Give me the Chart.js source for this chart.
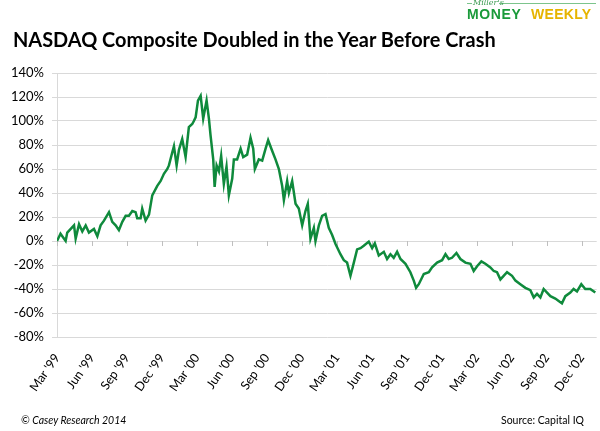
<!DOCTYPE html>
<html>
<head>
<meta charset="utf-8">
<script src="https://cdn.jsdelivr.net/npm/chart.js@4"></script>
<style>
  html, body { margin: 0; padding: 0; background: #fff; }
  #wrap { position: relative; width: 600px; height: 431px; overflow: hidden; font-family: Lato, "Open Sans", sans-serif; }
  #chart { position: absolute; left: 0; top: 0; }
  #title { position: absolute; left: 13px; top: 27px; font-weight: bold; font-size: 22px; color: #000; white-space: nowrap; font-family: Lato, sans-serif; }
  .logo { position: absolute; white-space: nowrap; font-family: "Liberation Sans", Arial, sans-serif; font-weight: bold; }
  #money { left: 467px; top: 6px; font-size: 14px; color: #1a9a3a; letter-spacing: 0.6px; }
  #weekly { left: 531px; top: 6px; font-size: 14px; color: #e6b400; letter-spacing: 0.3px; }
  #miller { left: 473px; top: -2px; font-size: 8px; color: #3a9a50; font-style: italic; font-weight: normal; font-family: "DejaVu Serif", serif; }
  .rule { position: absolute; height: 1px; background: #7cc48c; top: 3px; }
  .foot { position: absolute; top: 414px; font-size: 10.5px; color: #000; white-space: nowrap; font-family: Lato, sans-serif; }
  #copy { left: 21px; font-style: italic; }
  #source { right: 16px; }
</style>
</head>
<body>
<div id="wrap">
  <canvas id="chart" width="600" height="431"></canvas>
  <div class="rule" style="left:467px;width:5px"></div>
  <div class="rule" style="left:499px;width:97px"></div>
  <div class="logo" id="miller">Miller's</div>
  <div class="logo" id="money">MONEY</div>
  <div class="logo" id="weekly">WEEKLY</div>
  <div id="title">NASDAQ Composite Doubled in the Year Before Crash</div>
  <div class="foot" id="copy">© Casey Research 2014</div>
  <div class="foot" id="source">Source: Capital IQ</div>
</div>
<script>
// months since Mar 1999 (x) and % change (y)
const months = [
  0, 0.3, 0.74, 0.88, 1.46, 1.6, 1.89, 2.17, 2.46, 2.74, 3.17, 3.46, 3.74, 4.03, 4.46, 4.74,
  5.03, 5.31, 5.6, 5.89, 6.17, 6.46, 6.74, 6.88, 7.17, 7.31, 7.6, 7.89, 8.17, 8.6, 8.89, 9.17,
  9.46, 9.6, 9.89, 10.03, 10.26, 10.46, 10.74, 11.03, 11.31, 11.6, 11.74, 11.89, 12.09, 12.32,
  12.54, 12.83, 13.03, 13.17, 13.4, 13.52, 13.69, 13.89, 14.08, 14.31, 14.54, 14.74, 15.03,
  15.17, 15.45, 15.75, 15.97, 16.31, 16.6, 16.83, 16.97, 17.31, 17.6, 17.89, 18.11, 18.46,
  18.74, 19.03, 19.31, 19.46, 19.74, 19.89, 20.17, 20.46, 20.74, 21.03, 21.31, 21.51, 21.74,
  22.03, 22.17, 22.46, 22.74, 23.03, 23.31, 23.6, 23.89, 24.31, 24.6, 24.88, 25.17, 25.46,
  25.74, 26.03, 26.31, 26.74, 27.03, 27.26, 27.6, 28.03, 28.31, 28.6, 28.88, 29.17, 29.46,
  29.89, 30.31, 30.6, 30.8, 31.03, 31.46, 31.89, 32.17, 32.6, 33.03, 33.32, 33.6, 33.88,
  34.26, 34.6, 35.03, 35.46, 35.74, 36.03, 36.4, 36.74, 37.17, 37.46, 37.74, 38.03, 38.31,
  38.6, 39.03, 39.32, 39.74, 40.17, 40.6, 40.89, 41.17, 41.46, 41.74, 42.03, 42.32, 42.74,
  43.03, 43.31, 43.6, 44.03, 44.31, 44.6, 44.97, 45.31, 45.74, 46.17
];
const pctChange = [
  0, 6, 0, 7, 13, 2, 14, 8, 13, 7, 10, 4, 13, 17, 24, 16,
  13, 9, 16, 21, 21, 25, 24, 19, 19, 27, 17, 22, 38, 46, 50, 56,
  60, 63, 74, 79, 63, 76, 85, 70, 95, 97.5, 100, 103, 117, 121,
  102, 117, 102, 88, 68, 45, 63, 58, 71, 47.5, 62, 38, 52,
  68, 68, 77, 70, 72, 86, 77, 60, 68, 67, 77, 84, 75,
  68, 60, 46, 34, 50, 40, 50, 31, 27, 13, 25, 31, 2,
  11, 0, 13, 21, 22.5, 11, 5, -2.5, -11, -16, -18, -29, -18,
  -7, -6, -4, -0.5, -6, -2, -12, -9, -15, -11, -14, -9, -15,
  -19, -26, -33, -39, -36, -27.5, -26, -22, -18, -16, -11, -15, -14,
  -10, -15, -18, -19, -25, -21, -17, -19, -22, -25, -26, -32, -29,
  -26, -29, -33, -36, -39, -41, -47, -44, -47, -40, -43, -46, -48,
  -50, -52, -46, -43, -40, -42, -36, -40, -40, -43
];
const tickLabels = ["Mar '99", "Jun '99", "Sep '99", "Dec '99", "Mar '00", "Jun '00", "Sep '00", "Dec '00",
                    "Mar '01", "Jun '01", "Sep '01", "Dec '01", "Mar '02", "Jun '02", "Sep '02", "Dec '02"];
const yTicks = [-80, -60, -40, -20, 0, 20, 40, 60, 80, 100, 120, 140];

const gridColor = "#d9d9d9";
const lineColor = "#0f8a3c";

// fit the title to the width it has in the picture
const titleEl = document.getElementById("title");
const tw = titleEl.getBoundingClientRect().width;
titleEl.style.fontSize = (22 * 483 / tw).toFixed(2) + "px";

// x axis sits on 0%, with small tick marks hanging below it
const zeroAxis = {
  id: "zeroAxis",
  beforeDatasetsDraw(chart) {
    const { ctx, scales: { x, y } } = chart;
    const y0 = y.getPixelForValue(0);
    ctx.save();
    ctx.strokeStyle = "#bfbfbf";
    ctx.lineWidth = 1;
    ctx.beginPath();
    x.ticks.forEach(t => {
      const px = Math.round(x.getPixelForValue(t.value)) + 0.5;
      ctx.moveTo(px, y0);
      ctx.lineTo(px, y0 + 5);
    });
    ctx.stroke();
    ctx.restore();
  }
};

new Chart(document.getElementById("chart"), {
  type: "line",
  data: {
    datasets: [{
      data: months.map((m, i) => ({ x: m, y: pctChange[i] })),
      borderColor: lineColor,
      borderWidth: 2.5,
      pointRadius: 0,
      tension: 0
    }]
  },
  options: {
    responsive: false,
    animation: false,
    layout: { padding: { top: 73, right: 2, left: 0, bottom: 0 } },
    plugins: { legend: { display: false }, tooltip: { enabled: false } },
    scales: {
      x: {
        type: "linear",
        min: 0,
        max: 46.29,
        afterFit: s => { s.height = 94; },
        afterBuildTicks: s => { s.ticks = tickLabels.map((_, i) => ({ value: i * 3 })); },
        grid: { display: false },
        border: { display: false },
        ticks: {
          autoSkip: false,
          minRotation: 55,
          maxRotation: 55,
          padding: 6,
          color: "#000",
          font: { family: "Lato", size: 12.5 },
          callback: (v, i) => tickLabels[i]
        }
      },
      y: {
        min: -80,
        max: 140,
        afterFit: s => { s.width = 57; },
        afterBuildTicks: s => { s.ticks = yTicks.map(v => ({ value: v })); },
        grid: { color: gridColor, lineWidth: 1, tickLength: 5, drawTicks: true },
        border: { display: true, color: gridColor },
        ticks: {
          padding: 8,
          color: "#000",
          font: { family: "Lato", size: 13 },
          callback: v => v + "%"
        }
      }
    }
  },
  plugins: [zeroAxis]
});
</script>
</body>
</html>
